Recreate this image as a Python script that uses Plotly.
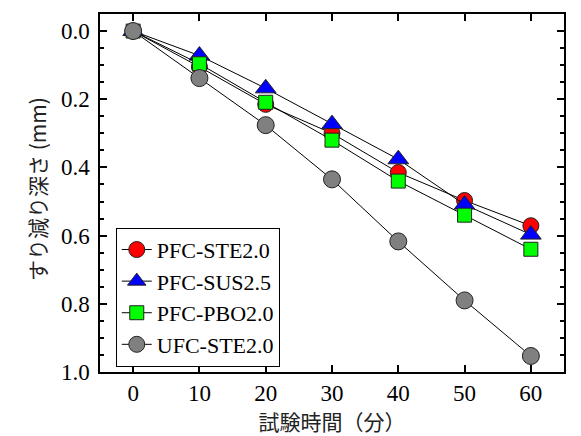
import plotly.graph_objects as go

time_min = [0, 10, 20, 30, 40, 50, 60]
pfc_ste20 = [0.0, 0.105, 0.215, 0.300, 0.415, 0.497, 0.571]
pfc_sus25 = [0.0, 0.072, 0.168, 0.273, 0.376, 0.509, 0.597]
pfc_pbo20 = [0.0, 0.096, 0.209, 0.320, 0.440, 0.540, 0.640]
ufc_ste20 = [0.0, 0.138, 0.276, 0.435, 0.617, 0.790, 0.953]

x_title = "試験時間（分）"
y_title = "すり減り深さ (mm)"

series = [
    ("PFC-STE2.0", pfc_ste20, "circle", "#ff0000", 16),
    ("PFC-SUS2.5", pfc_sus25, "triangle-up", "#0000ff", 18),
    ("PFC-PBO2.0", pfc_pbo20, "square", "#00ff00", 14),
    ("UFC-STE2.0", ufc_ste20, "circle", "#808080", 17),
]

fig = go.Figure()
for name, vals, sym, col, sz in series:
    fig.add_trace(go.Scatter(
        x=time_min, y=vals, name=name, mode="lines+markers",
        line=dict(color="black", width=1),
        marker=dict(symbol=sym, color=col, size=sz,
                    line=dict(color="#222222", width=1)),
    ))

serif = "Liberation Serif, Times New Roman, serif"
jp = "Noto Sans CJK JP, sans-serif"

fig.update_layout(
    width=581, height=436,
    margin=dict(l=92, r=25, t=4, b=72),
    paper_bgcolor="white", plot_bgcolor="white",
    font=dict(family=serif, size=22, color="black"),
    showlegend=True,
    legend=dict(
        x=0.034, y=0.403, xanchor="left", yanchor="top",
        bordercolor="black", borderwidth=1, bgcolor="white",
        font=dict(family=serif, size=22, color="black"),
        tracegroupgap=0, itemsizing="trace",
    ),
    xaxis=dict(
        range=[-5, 65], tickvals=[0, 10, 20, 30, 40, 50, 60],
        ticks="inside", ticklen=7, tickwidth=1.5, tickcolor="black",
        showline=True, linecolor="black", linewidth=1.5, mirror="ticks",
        showgrid=False, zeroline=False,
        tickfont=dict(family=serif, size=23, color="black"),
        title=dict(text=x_title, font=dict(family=jp, size=21, color="#222222"), standoff=2),
    ),
    yaxis=dict(
        range=[1.0, -0.05], tickvals=[0.0, 0.2, 0.4, 0.6, 0.8, 1.0],
        tickformat=".1f",
        ticks="inside", ticklen=7, tickwidth=1.5, tickcolor="black",
        minor=dict(dtick=0.05, tick0=0, ticks="inside", ticklen=4, tickcolor="black", tickwidth=1.5),
        showline=True, linecolor="black", linewidth=1.5, mirror="ticks",
        showgrid=False, zeroline=False,
        ticklabelstandoff=4,
        tickfont=dict(family=serif, size=23, color="black"),
    ),
    annotations=[dict(
        text=y_title, xref="paper", yref="paper", x=-0.136, y=0.511,
        xanchor="center", yanchor="middle", textangle=-90, showarrow=False,
        font=dict(family=jp, size=21, color="#222222"),
    )],
)

fig.write_html("out.html")
